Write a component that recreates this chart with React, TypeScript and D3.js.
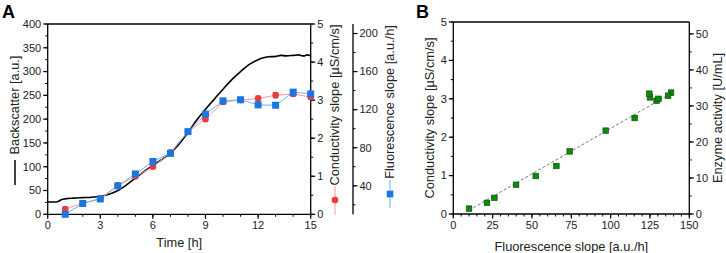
import React from "react";
import * as d3 from "d3";

// Panel A data
const sampleTimes = [1, 2, 3, 4, 5, 6, 7, 8, 9, 10, 11, 12, 13, 14, 15];
const conductivity = [0.14, 0.29, 0.42, 0.76, 0.99, 1.25, 1.63, 2.17, 2.5, 2.95, 3.0, 3.04, 3.13, 3.16, 3.08];
const conductivityErr = [0.05, 0.03, 0.03, 0.04, 0.04, 0.04, 0.04, 0.04, 0.05, 0.05, 0.05, 0.07, 0.07, 0.06, 0.06];
const fluorescence = [10, 21.4, 26.1, 39.9, 52.4, 65.5, 74, 96.9, 115.3, 129.2, 130.4, 125, 124.6, 138.4, 136.5];
const fluorescenceErr = [1, 1, 1, 1, 1, 1, 1, 1, 1, 1, 1, 1, 1, 1, 1];

const bsTime = [0, 0.5, 0.65, 0.8, 1.0, 1.5, 2, 2.5, 3, 3.5, 4, 4.5, 5, 5.5, 6, 6.5, 7, 7.5, 8, 8.5, 9, 9.5, 10, 10.5, 11, 11.5, 12, 12.3, 12.6, 13, 13.3, 13.6, 14, 14.3, 14.6, 14.8, 15];
const bsValue = [26, 26, 28, 31, 32.5, 34, 35, 36, 38, 42, 50, 62, 76, 90, 103, 115, 129, 148, 172, 198, 221, 242, 263, 283, 300, 315, 325, 329, 331, 332, 334, 333, 334, 335, 333, 335, 333];

// Panel B regression line
const fitX = [10, 138];
const fitSlope = 0.0237;
const fitIntercept = -0.14;

// Tick values
const timeTicks = [0, 3, 6, 9, 12, 15];
const bsTicks = [0, 50, 100, 150, 200, 250, 300, 350, 400];
const condTicks = [0, 1, 2, 3, 4, 5];
const fluoTicksA = [40, 80, 120, 160, 200];
const fluoTicksB = [0, 25, 50, 75, 100, 125, 150];
const enzymeTicks = [0, 10, 20, 30, 40, 50];

const FONT = "'Liberation Sans', Arial, sans-serif";
const RED = "#f03a3a";
const RED_LINE = "#ff9a9a";
const BLUE = "#1a76e0";
const BLUE_LINE = "#6ab4f2";
const GREEN = "#0b8a0b";
const TITLE = 12.8;

function range(a: number, b: number, s: number) {
  const out: number[] = [];
  for (let v = a; v <= b + 1e-9; v += s) out.push(+v.toFixed(6));
  return out;
}

function VAxis({ x, scale, ticks, minor, side, fmt }: any) {
  const dir = side === "left" ? -1 : 1;
  const [r0, r1] = scale.range();
  return (
    <g>
      <line x1={x} x2={x} y1={r0} y2={r1} stroke="#000" strokeWidth={1.3} />
      {minor.map((v: number, i: number) => (
        <line key={"m" + i} x1={x} x2={x + dir * 2.5} y1={scale(v)} y2={scale(v)} stroke="#000" strokeWidth={1} />
      ))}
      {ticks.map((v: number, i: number) => (
        <g key={i}>
          <line x1={x} x2={x + dir * 4.5} y1={scale(v)} y2={scale(v)} stroke="#000" strokeWidth={1.2} />
          <text x={x + dir * 6.5} y={scale(v)} dy="0.35em" fontSize={11} fontFamily={FONT} textAnchor={side === "left" ? "end" : "start"} fill="#222">
            {fmt ? fmt(v) : v}
          </text>
        </g>
      ))}
    </g>
  );
}

function HAxis({ y, scale, ticks, minor }: any) {
  const [r0, r1] = scale.range();
  return (
    <g>
      <line x1={r0} x2={r1} y1={y} y2={y} stroke="#000" strokeWidth={1.3} />
      {minor.map((v: number, i: number) => (
        <line key={"m" + i} x1={scale(v)} x2={scale(v)} y1={y} y2={y + 2.5} stroke="#000" strokeWidth={1} />
      ))}
      {ticks.map((v: number, i: number) => (
        <g key={i}>
          <line x1={scale(v)} x2={scale(v)} y1={y} y2={y + 4.5} stroke="#000" strokeWidth={1.2} />
          <text x={scale(v)} y={y + 14.5} fontSize={11} fontFamily={FONT} textAnchor="middle" fill="#222">
            {v}
          </text>
        </g>
      ))}
    </g>
  );
}

function VTitle({ x, y, text }: any) {
  return (
    <text transform={`translate(${x},${y}) rotate(-90)`} fontSize={TITLE} fontFamily={FONT} textAnchor="middle" dy="0.35em" fill="#222">
      {text}
    </text>
  );
}

export default function App() {
  // Panel A scales
  const xA = d3.scaleLinear().domain([0, 15]).range([47.7, 310.7]);
  const yBs = d3.scaleLinear().domain([0, 400]).range([214.3, 24]);
  const yCond = d3.scaleLinear().domain([0, 5]).range([214.3, 24]);
  const yFluo = d3.scaleLinear().domain([10, 210]).range([214.3, 24]);

  // Panel B scales
  const xB = d3.scaleLinear().domain([0, 150]).range([453.3, 689.3]);
  const yB = d3.scaleLinear().domain([0, 5]).range([214, 22]);
  const yEnz = d3.scaleLinear().domain([0, 53.3]).range([214, 22]);

  const bsLine = d3.line<number>().x((_, i) => xA(bsTime[i])).y((d) => yBs(d)).curve(d3.curveMonotoneX);
  const condLine = d3.line<number>().x((_, i) => xA(sampleTimes[i])).y((d) => yCond(d));
  const fluoLine = d3.line<number>().x((_, i) => xA(sampleTimes[i])).y((d) => yFluo(d));

  const sq = 7;
  const gsq = 5.6;

  return (
    <svg width={726} height={253} style={{ position: "absolute", left: 0, top: 0, background: "#fff" }}>
      <rect width={726} height={253} fill="#fff" />
      {/* Panel labels */}
      <text x={2} y={18} fontSize={18} fontWeight="bold" fontFamily={FONT}>A</text>
      <text x={416} y={18} fontSize={18} fontWeight="bold" fontFamily={FONT}>B</text>

      {/* ===== Panel A ===== */}
      <line x1={xA(0)} x2={xA(15)} y1={24} y2={24} stroke="#000" strokeWidth={1.3} />
      <HAxis y={214.3} scale={xA} ticks={timeTicks} minor={range(0, 15, 1)} />
      <VAxis x={xA(0)} scale={yBs} ticks={bsTicks} minor={range(0, 400, 25)} side="left" />
      <VAxis x={xA(15)} scale={yCond} ticks={condTicks} minor={range(0, 5, 0.5)} side="right" />
      <VAxis x={353} scale={yFluo} ticks={fluoTicksA} minor={range(20, 200, 20)} side="right" />

      <text x={xA(7.5)} y={247} fontSize={TITLE} fontFamily={FONT} textAnchor="middle" fill="#222">Time [h]</text>
      <VTitle x={15} y={105} text="Backscatter [a.u.]" />
      <line x1={15} x2={15} y1={160} y2={185} stroke="#000" strokeWidth={1.5} />
      <VTitle x={335} y={105} text="Conductivity slope [µS/cm/s]" />
      <line x1={335} x2={335} y1={186} y2={215} stroke={RED_LINE} strokeWidth={1} />
      <circle cx={335} cy={200} r={3.3} fill={RED} />
      <VTitle x={390} y={102} text="Fluorescence slope [a.u./h]" />
      <line x1={390} x2={390} y1={180} y2={208} stroke={BLUE_LINE} strokeWidth={1} />
      <rect x={390 - 3.3} y={194 - 3.3} width={6.6} height={6.6} fill={BLUE} />

      {/* backscatter */}
      <path d={bsLine(bsValue) || ""} fill="none" stroke="#000" strokeWidth={1.6} />

      {/* conductivity series */}
      <path d={condLine(conductivity) || ""} fill="none" stroke={RED_LINE} strokeWidth={1} />
      {conductivity.map((v, i) => (
        <g key={"c" + i}>
          <line x1={xA(sampleTimes[i])} x2={xA(sampleTimes[i])} y1={yCond(v - conductivityErr[i])} y2={yCond(v + conductivityErr[i])} stroke="#555" strokeWidth={1} />
          <line x1={xA(sampleTimes[i]) - 2.5} x2={xA(sampleTimes[i]) + 2.5} y1={yCond(v - conductivityErr[i])} y2={yCond(v - conductivityErr[i])} stroke="#555" strokeWidth={1} />
          <line x1={xA(sampleTimes[i]) - 2.5} x2={xA(sampleTimes[i]) + 2.5} y1={yCond(v + conductivityErr[i])} y2={yCond(v + conductivityErr[i])} stroke="#555" strokeWidth={1} />
          <circle cx={xA(sampleTimes[i])} cy={yCond(v)} r={3.3} fill={RED} />
        </g>
      ))}

      {/* fluorescence series */}
      <path d={fluoLine(fluorescence) || ""} fill="none" stroke={BLUE_LINE} strokeWidth={1} />
      {fluorescence.map((v, i) => (
        <g key={"f" + i}>
          <line x1={xA(sampleTimes[i])} x2={xA(sampleTimes[i])} y1={yFluo(v - fluorescenceErr[i])} y2={yFluo(v + fluorescenceErr[i])} stroke="#777" strokeWidth={1} />
          <rect x={xA(sampleTimes[i]) - sq / 2} y={yFluo(v) - sq / 2} width={sq} height={sq} fill={BLUE} />
        </g>
      ))}

      {/* ===== Panel B ===== */}
      <line x1={xB(0)} x2={xB(150)} y1={22} y2={22} stroke="#000" strokeWidth={1.3} />
      <HAxis y={214} scale={xB} ticks={fluoTicksB} minor={range(0, 150, 5)} />
      <VAxis x={xB(0)} scale={yB} ticks={condTicks} minor={range(0, 5, 0.5)} side="left" />
      <VAxis x={xB(150)} scale={yEnz} ticks={enzymeTicks} minor={range(0, 50, 5)} side="right" />

      <text x={xB(75)} y={251} fontSize={TITLE} fontFamily={FONT} textAnchor="middle" fill="#222">Fluorescence slope [a.u./h]</text>
      <VTitle x={430} y={118} text="Conductivity slope [µS/cm/s]" />
      <VTitle x={718} y={118} text="Enzyme activity [U/mL]" />

      <line x1={xB(fitX[0])} x2={xB(fitX[1])} y1={yB(fitSlope * fitX[0] + fitIntercept)} y2={yB(fitSlope * fitX[1] + fitIntercept)} stroke="#777" strokeWidth={1} strokeDasharray="3,2" />

      {fluorescence.map((fx, i) => {
        const cx = xB(fx);
        const cy = yB(conductivity[i]);
        const e = conductivityErr[i];
        return (
          <g key={"g" + i}>
            <line x1={cx} x2={cx} y1={yB(conductivity[i] - e)} y2={yB(conductivity[i] + e)} stroke="#888" strokeWidth={1} />
            <line x1={cx - 3} x2={cx + 3} y1={yB(conductivity[i] - e)} y2={yB(conductivity[i] - e)} stroke="#888" strokeWidth={1} />
            <line x1={cx - 3} x2={cx + 3} y1={yB(conductivity[i] + e)} y2={yB(conductivity[i] + e)} stroke="#888" strokeWidth={1} />
            <rect x={cx - gsq / 2} y={cy - gsq / 2} width={gsq} height={gsq} fill={GREEN} stroke="#064d06" strokeWidth={0.6} />
          </g>
        );
      })}
    </svg>
  );
}
